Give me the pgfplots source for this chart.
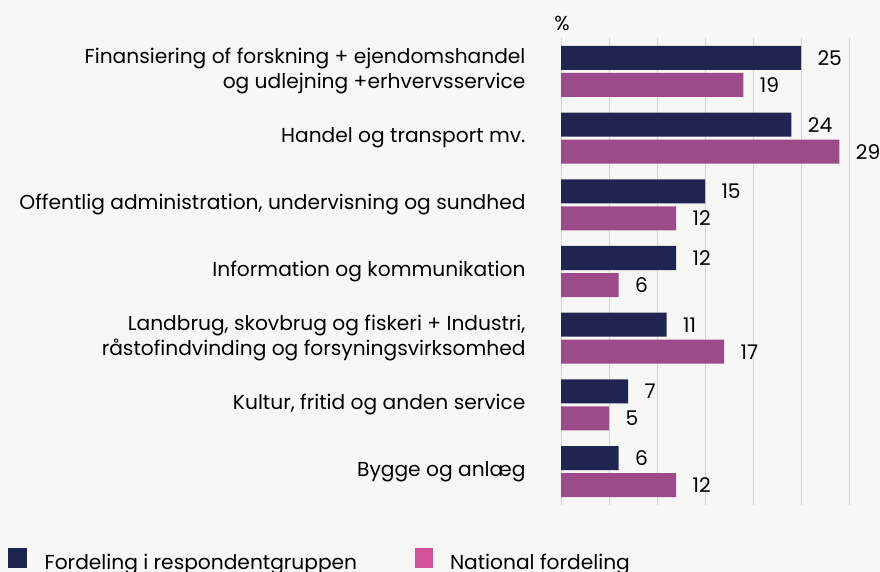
\documentclass[border=0pt]{standalone}
\usepackage{fontspec}
\setmainfont{Poppins}
\usepackage{pgfplots}
\pgfplotsset{compat=1.18}
\definecolor{bg}{HTML}{F7F7F5}
\definecolor{navy}{HTML}{1F2550}
\definecolor{plum}{HTML}{9C4A8A}
\definecolor{pinkleg}{HTML}{D4529C}
\definecolor{gridgray}{HTML}{D4D4D4}
\newcommand{\lblfont}{\fontsize{20.2}{25}\selectfont}

\begin{document}
\begin{tikzpicture}[x=1pt,y=1pt]
\fill[bg] (0,0) rectangle (880,572);
\useasboundingbox (0,0) rectangle (880,572);
\begin{axis}[
  at={(561pt,67pt)}, anchor=south west,
  scale only axis, width=288pt, height=467pt,
  xmin=0, xmax=30, ymin=-0.5, ymax=6.5, y dir=reverse,
  clip=false,
  xbar, bar width=0.36,
  xtick={0,5,...,30}, xticklabels={},
  xmajorgrids, grid style={gridgray, line width=1pt},
  ytick={0,...,6},
  yticklabels={{Finansiering of forskning + ejendomshandel\\og udlejning +erhvervsservice},
               {Handel og transport mv.},
               {Offentlig administration, undervisning og sundhed},
               {Information og kommunikation},
               {Landbrug, skovbrug og fiskeri + Industri,\\råstofindvinding og forsyningsvirksomhed},
               {Kultur, fritid og anden service},
               {Bygge og anlæg}},
  yticklabel style={align=right, font=\lblfont, xshift=-32pt},
  major tick length=0pt,
  axis line style={draw=none},
  /pgf/number format/assume math mode=true,
  nodes near coords,
  nodes near coords style={font=\lblfont, text=black, anchor=west, xshift=13pt},
  legend style={at={(-1.9201,-0.0925)}, anchor=north west, draw=none, fill=none,
    legend columns=2, font=\lblfont, inner sep=0pt,
    /tikz/every odd column/.append style={column sep=16pt},
    /tikz/every even column/.append style={column sep=0pt}},
  legend cell align=left,
]
\addplot[draw=none, fill=navy, bar shift=-0.2025, forget plot]
  coordinates {(25,0) (24,1) (15,2) (12,3) (11,4) (7,5) (6,6)};
\addplot[draw=none, fill=plum, bar shift=0.2025, forget plot]
  coordinates {(19,0) (29,1) (12,2) (6,3) (17,4) (5,5) (12,6)};
\addlegendimage{legend image code/.code={\fill[navy] (0pt,-5pt) rectangle (18pt,14pt);}}
\addlegendentry{\makebox[368pt][l]{Fordeling i respondentgruppen}}
\addlegendimage{legend image code/.code={\fill[pinkleg] (0pt,-5pt) rectangle (17pt,14pt);}}
\addlegendentry{National fordeling}
\node[font=\lblfont, anchor=base, inner sep=0pt] at (axis cs:0.1,-0.5) [yshift=8pt] {\%};
\end{axis}
\end{tikzpicture}
\end{document}
